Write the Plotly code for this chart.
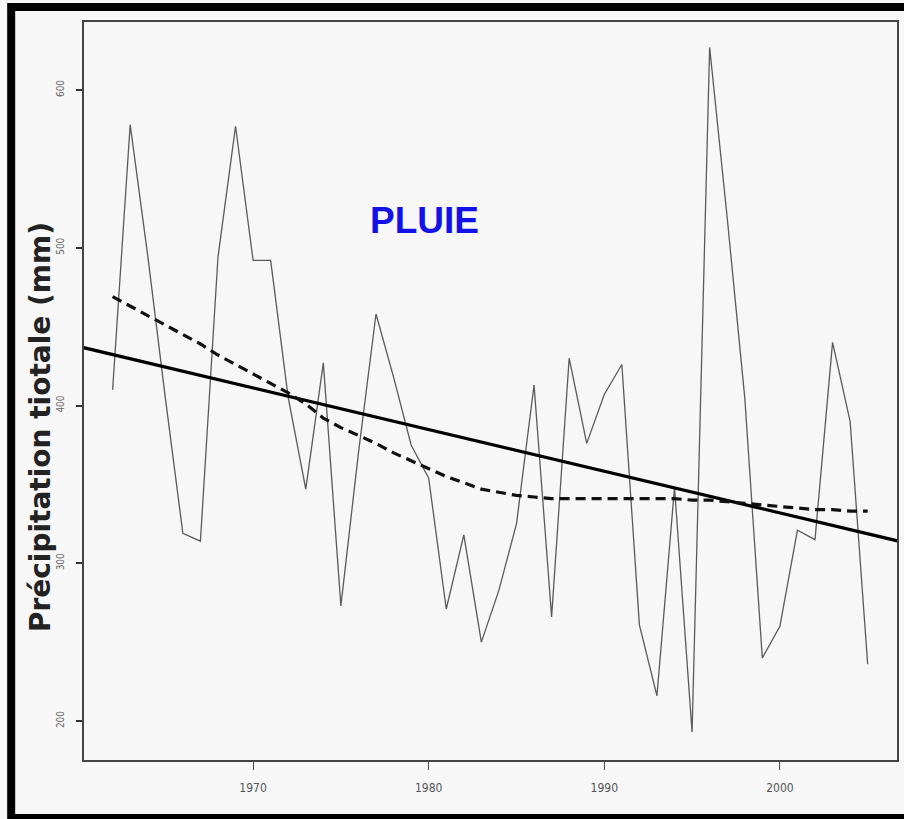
import plotly.graph_objects as go

# ---- data ----
years = [1962, 1963, 1964, 1965, 1966, 1967, 1968, 1969, 1970, 1971,
         1972, 1973, 1974, 1975, 1976, 1977, 1978, 1979, 1980, 1981,
         1982, 1983, 1984, 1985, 1986, 1987, 1988, 1989, 1990, 1991,
         1992, 1993, 1994, 1995, 1996, 1997, 1998, 1999, 2000, 2001,
         2002, 2003, 2004, 2005]

rain_mm = [410, 578, 495, 405, 319, 314, 494, 577, 492, 492,
           405, 347, 427, 273, 370, 458, 418, 375, 354, 271,
           318, 250, 283, 325, 413, 266, 430, 376, 407, 426,
           261, 216, 348, 193, 627, 519, 405, 240, 260, 321,
           315, 440, 390, 236]

smooth_mm = [469, 463, 457, 451, 445, 439, 432, 426, 420, 414,
             408, 401, 392, 386, 381, 376, 370, 365, 360, 355,
             351, 347, 345, 343, 342, 341, 341, 341, 341, 341,
             341, 341, 341, 340, 340, 339, 338, 337, 336, 335,
             334, 334, 333, 333]

trend_years = [1960, 2007]
trend_mm = [437.6, 313.4]

x_ticks = [1970, 1980, 1990, 2000]
y_ticks = [200, 300, 400, 500, 600]

title_text = "PLUIE"
y_title = "Précipitation tiotale (mm)"

# ---- figure ----
fig = go.Figure()

fig.add_trace(go.Scatter(x=years, y=rain_mm, mode="lines",
                         line=dict(color="#5a5a5a", width=1.3),
                         showlegend=False, hoverinfo="skip"))
fig.add_trace(go.Scatter(x=trend_years, y=trend_mm, mode="lines",
                         line=dict(color="#000000", width=3.2),
                         showlegend=False, hoverinfo="skip"))
fig.add_trace(go.Scatter(x=years, y=smooth_mm, mode="lines",
                         line=dict(color="#111111", width=3.2, dash="10px,6px"),
                         showlegend=False, hoverinfo="skip"))

W, H = 904, 819
L, R, T, B = 84, 5, 22, 59
pw = W - L - R
ph = H - T - B

def px_x(p):
    return (p - L) / pw

def px_y(p):
    return (H - B - p) / ph

fig.update_layout(
    width=W, height=H,
    margin=dict(l=L, r=R, t=T, b=B),
    paper_bgcolor="#f7f7f7",
    plot_bgcolor="#f7f7f7",
    showlegend=False,
    xaxis=dict(range=[1960.37, 2006.67], tickvals=x_ticks,
               showgrid=False, zeroline=False,
               showline=True, mirror=True, linecolor="#444444", linewidth=1.5,
               ticks="outside", ticklen=8, tickwidth=1.2, tickcolor="#444444",
               ticklabelstandoff=8,
               tickfont=dict(family="Liberation Sans Narrow, DejaVu Sans Condensed, sans-serif",
                             size=12, color="#555555")),
    yaxis=dict(range=[175.3, 643.1], tickvals=y_ticks,
               showgrid=False, zeroline=False,
               showline=True, mirror=True, linecolor="#444444", linewidth=1.5,
               ticks="outside", ticklen=6, tickwidth=1.5, tickcolor="#333333",
               tickangle=-90, ticklabelstandoff=8,
               tickfont=dict(family="Liberation Sans Narrow, DejaVu Sans Condensed, sans-serif",
                             size=10, color="#666666")),
    annotations=[
        dict(text="<b>" + title_text + "</b>", xref="paper", yref="paper",
             x=px_x(425), y=px_y(220), showarrow=False,
             font=dict(family="Liberation Sans, Arial, sans-serif", size=37, color="#1212e6"),
             xanchor="center", yanchor="middle"),
        dict(text="<b>" + y_title + "</b>", xref="paper", yref="paper",
             x=px_x(40), y=px_y(427), showarrow=False, textangle=-90,
             font=dict(family="DejaVu Sans, sans-serif", size=28, color="#222222"),
             xanchor="center", yanchor="middle"),
    ],
    shapes=[
        dict(type="rect", xref="paper", yref="paper",
             x0=px_x(11), x1=px_x(916), y0=px_y(818), y1=px_y(7),
             line=dict(color="#000000", width=8), fillcolor="rgba(0,0,0,0)",
             layer="above"),
    ],
)

fig.write_html("out.html",
               config={"displayModeBar": False},
               post_script="document.body.style.margin='0px';document.body.style.overflow='hidden';")
